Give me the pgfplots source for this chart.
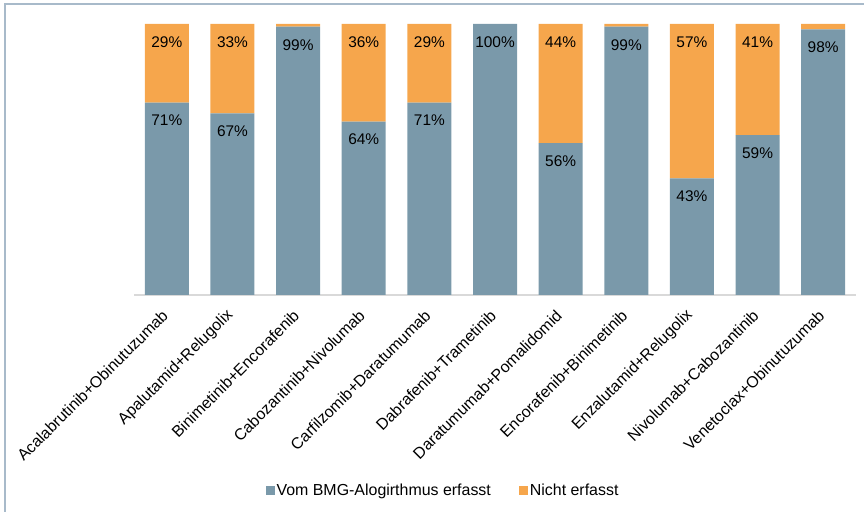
\documentclass[border=0pt]{standalone}
\usepackage{pgfplots}
\pgfplotsset{compat=1.18}
\usepackage{fontspec}
\setmainfont{Liberation Sans}
\definecolor{cblue}{RGB}{122,153,170}
\definecolor{corange}{RGB}{246,166,76}
\definecolor{cframe}{RGB}{168,186,202}
\definecolor{caxis}{RGB}{217,217,217}
\begin{document}
\begin{tikzpicture}[x=1bp,y=1bp]
\path[use as bounding box] (0,0) rectangle (864,512);
\draw[cframe,line width=1.5bp] (5,-2) -- (5,508) -- (866,508);
\begin{axis}[
  at={(134bp,217bp)}, anchor=south west,
  scale only axis, width=722bp, height=271bp,
  ybar stacked, bar width=44bp,
  xmin=-0.5, xmax=10.5, ymin=0, ymax=100,
  axis x line=bottom, axis y line=none,
  x axis line style={caxis, line width=2bp, -},
  major tick length=0pt,
  xtick={0,...,10},
  xticklabels={Acalabrutinib+Obinutuzumab,Apalutamid+Relugolix,Binimetinib+Encorafenib,Cabozantinib+Nivolumab,Carfilzomib+Daratumumab,Dabrafenib+Trametinib,Daratumumab+Pomalidomid,Encorafenib+Binimetinib,Enzalutamid+Relugolix,Nivolumab+Cabozantinib,Venetoclax+Obinutuzumab},
  xticklabel style={xshift=-1bp, yshift=-17bp, rotate=45, anchor=east, font=\fontsize{16}{19}\selectfont, inner sep=1bp},
  point meta=explicit symbolic,
  visualization depends on=rawy\as\rawy,
  nodes near coords={\pgfplotspointmeta},
  every node near coord/.append style={anchor=center, yshift=\rawy*1.355bp-18bp, inner sep=0pt, font=\fontsize{15.5}{18}\selectfont, text=black},
  legend columns=2,
  legend style={at={(0.428,-0.723)}, anchor=center, draw=none, fill=none, font=\fontsize{16}{19}\selectfont,
    /tikz/every even column/.append style={column sep=26bp}},
  legend image code/.code={\fill[#1] (0bp,-4.5bp) rectangle (9bp,4.5bp);},
]
\addplot[fill=cblue, draw=none] coordinates {
 (0,71) [71\%] (1,67) [67\%] (2,99) [99\%] (3,64) [64\%] (4,71) [71\%] (5,100) [100\%]
 (6,56) [56\%] (7,99) [99\%] (8,43) [43\%] (9,59) [59\%] (10,98) [98\%]};
\addlegendentry{Vom BMG-Alogirthmus erfasst}
\addplot[fill=corange, draw=none] coordinates {
 (0,29) [29\%] (1,33) [33\%] (2,1) [] (3,36) [36\%] (4,29) [29\%] (5,0) []
 (6,44) [44\%] (7,1) [] (8,57) [57\%] (9,41) [41\%] (10,2) []};
\addlegendentry{Nicht erfasst}
\end{axis}
\end{tikzpicture}
\end{document}
